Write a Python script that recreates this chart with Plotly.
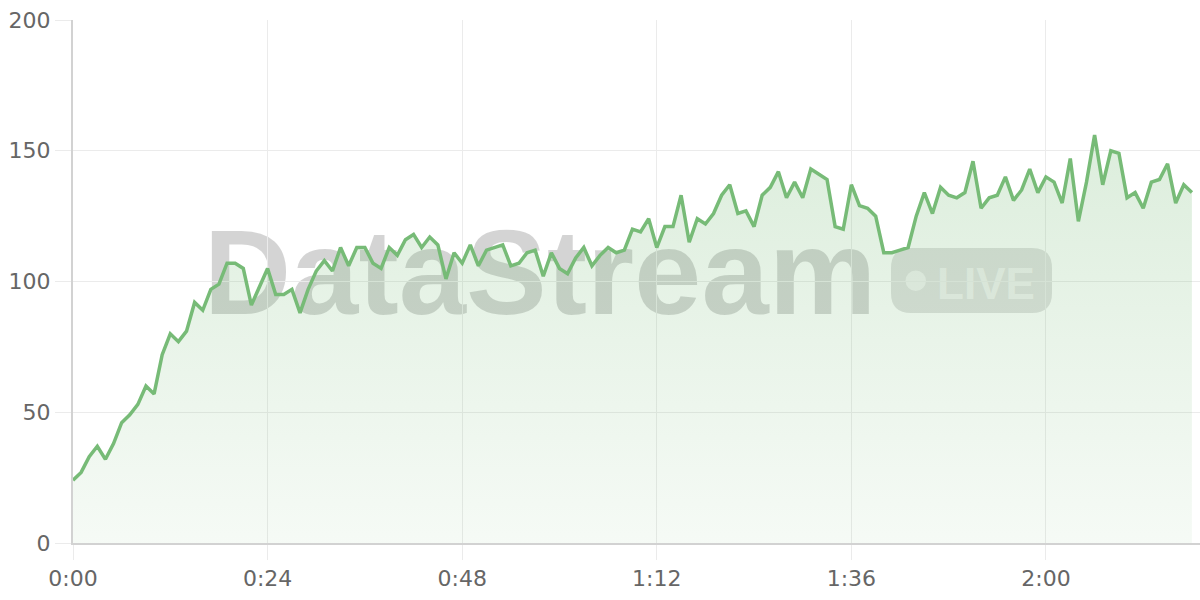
import plotly.graph_objects as go

# ---- data ----
values = [
    24, 27, 33, 37, 32, 38, 46, 49, 53, 60,
    57, 72, 80, 77, 81, 92, 89, 97, 99, 107,
    107, 105, 91, 98, 105, 95, 95, 97, 88, 97,
    104, 108, 104, 113, 106, 113, 113, 107, 105, 113,
    110, 116, 118, 113, 117, 114, 101, 111, 107, 114,
    106, 112, 113, 114, 106, 107, 111, 112, 102, 111,
    105, 103, 109, 113, 106, 110, 113, 111, 112, 120,
    119, 124, 113, 121, 121, 133, 115, 124, 122, 126,
    133, 137, 126, 127, 121, 133, 136, 142, 132, 138,
    132, 143, 141, 139, 121, 120, 137, 129, 128, 125,
    111, 111, 112, 113, 125, 134, 126, 136, 133, 132,
    134, 146, 128, 132, 133, 140, 131, 135, 143, 134,
    140, 138, 130, 147, 123, 138, 156, 137, 150, 149,
    132, 134, 128, 138, 139, 145, 130, 137, 134,
]
minutes = list(range(len(values)))
tick_vals = [0, 24, 48, 72, 96, 120]
tick_text = ["0:00", "0:24", "0:48", "1:12", "1:36", "2:00"]
y_ticks = [0, 50, 100, 150, 200]

LINE = "rgb(119,187,119)"
GRID = "#ebebeb"
AXIS = "#d2d2d2"
FONT = "DejaVu Sans"

fig = go.Figure()

# filled area (below line)
fig.add_trace(go.Scatter(
    x=minutes, y=values, mode="lines",
    line=dict(width=0, color=LINE),
    fill="tozeroy",
    fillgradient=dict(
        type="vertical", start=0, stop=160,
        colorscale=[[0, "rgba(119,187,119,0.07)"], [1, "rgba(119,187,119,0.26)"]],
    ),
    hoverinfo="skip", showlegend=False,
))
# line
fig.add_trace(go.Scatter(
    x=minutes, y=values, mode="lines",
    line=dict(width=3.5, color=LINE, shape="linear"),
    showlegend=False,
))

# ---- watermark (decoration, paper coords) ----
def px_x(p):
    return (p - 73) / 1127.0

def px_y(p):
    return (543 - p) / 523.0

shapes = []
# DataStream text
shapes.append(dict(
    type="rect", xref="paper", yref="paper", layer="below",
    x0=px_x(200), x1=px_x(880), y0=px_y(311), y1=px_y(211),
    line=dict(width=0), fillcolor="rgba(0,0,0,0)",
    label=dict(text="DataStream", textposition="middle center",
               font=dict(family="Liberation Sans", size=121, color="rgba(0,0,0,0.17)", weight="bold")),
))
# LIVE pill (rounded rect)
bx0, bx1, by0, by1, r = 891, 1052, 248, 313, 20
X = lambda p: px_x(p)
Y = lambda p: px_y(p)
path = (
    f"M {X(bx0 + r)} {Y(by0)} L {X(bx1 - r)} {Y(by0)} "
    f"Q {X(bx1)} {Y(by0)} {X(bx1)} {Y(by0 + r)} "
    f"L {X(bx1)} {Y(by1 - r)} Q {X(bx1)} {Y(by1)} {X(bx1 - r)} {Y(by1)} "
    f"L {X(bx0 + r)} {Y(by1)} Q {X(bx0)} {Y(by1)} {X(bx0)} {Y(by1 - r)} "
    f"L {X(bx0)} {Y(by0 + r)} Q {X(bx0)} {Y(by0)} {X(bx0 + r)} {Y(by0)} Z"
)
shapes.append(dict(
    type="path", xref="paper", yref="paper", layer="below", path=path,
    line=dict(width=0), fillcolor="rgba(0,0,0,0.12)",
))
# dot
shapes.append(dict(
    type="circle", xref="paper", yref="paper", layer="below",
    x0=px_x(905.5), x1=px_x(926), y0=px_y(291), y1=px_y(270.5),
    line=dict(width=0), fillcolor="rgba(255,255,255,0.55)",
))
# LIVE text
shapes.append(dict(
    type="rect", xref="paper", yref="paper", layer="below",
    x0=px_x(936), x1=px_x(1036), y0=px_y(300), y1=px_y(258),
    line=dict(width=0), fillcolor="rgba(0,0,0,0)",
    label=dict(text="LIVE", textposition="middle center",
               font=dict(family="Liberation Sans", size=44, color="rgba(255,255,255,0.55)", weight="bold")),
))

fig.update_layout(
    width=1200, height=600,
    margin=dict(l=73, r=0, t=20, b=57),
    paper_bgcolor="white", plot_bgcolor="white",
    shapes=shapes,
    font=dict(family=FONT, size=22, color="#666666"),
    xaxis=dict(
        range=[0, 139], tickvals=tick_vals, ticktext=tick_text,
        showgrid=True, gridcolor=GRID, gridwidth=1,
        ticks="outside", ticklen=15, tickcolor=GRID, tickwidth=1,
        showline=True, linecolor=AXIS, linewidth=2,
        zeroline=False, tickfont=dict(size=22, color="#666666"),
    ),
    yaxis=dict(
        range=[0, 200], tickvals=y_ticks,
        showgrid=True, gridcolor=GRID, gridwidth=1,
        ticks="outside", ticklen=16, tickcolor=GRID, tickwidth=1,
        showline=True, linecolor=AXIS, linewidth=2,
        zeroline=False, tickfont=dict(size=22, color="#666666"),
    ),
)

fig.write_html(
    "out.html",
    config={"displayModeBar": False},
    post_script="document.body.style.margin='0';document.body.style.overflow='hidden';",
)
